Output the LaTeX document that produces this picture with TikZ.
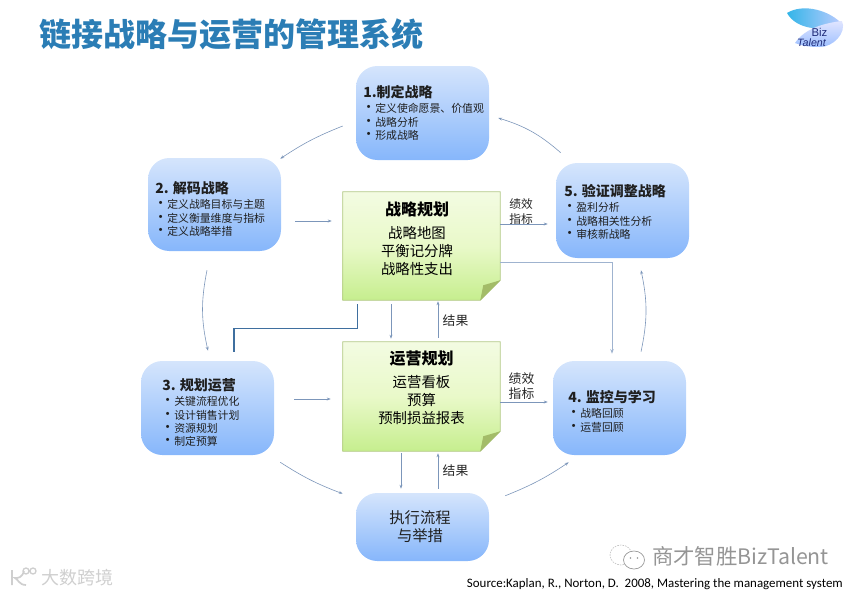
\documentclass[tikz,border=0pt]{standalone}
\usepackage{fontspec}
\setmainfont{Noto Sans CJK SC}
\newfontfamily\sourcefont{Carlito}
\newfontfamily\logofont{Liberation Sans}
\usetikzlibrary{calc,arrows.meta}

\definecolor{titleblue}{HTML}{2B7DB5}
\definecolor{flowblue}{HTML}{7C96BA}
\definecolor{deepblue}{HTML}{3F6F9F}
\definecolor{paleline}{HTML}{9FB3CF}
\definecolor{boxtop}{HTML}{D5E5FC}
\definecolor{boxbottom}{HTML}{86B6FB}
\definecolor{sheetline}{HTML}{B4C98A}
\definecolor{sheettop}{HTML}{F3FBE2}
\definecolor{sheetmid}{HTML}{E9F9C9}
\definecolor{sheetbottom}{HTML}{C6EE8E}
\definecolor{foldgreen}{HTML}{A3BC68}
\definecolor{markgrey}{HTML}{959595}
\definecolor{cornergrey}{HTML}{CFCFCF}
\definecolor{logonavy}{HTML}{1E2A78}

\tikzset{
  bluebox/.style n args={2}{rectangle,rounded corners=16pt,top color=boxtop,bottom color=boxbottom,
    minimum width=#1,minimum height=#2,inner sep=0pt},
  notebox/.style={rectangle,minimum width=117.75pt,inner sep=0pt},
  textnode/.style={anchor=north west,inner sep=0.75pt,align=left,text=black!88},
  flow/.style={draw=flowblue,line width=0.45pt,-{Stealth[length=3pt,width=2.2pt]}},
  linklabel/.style={inner sep=0.75pt,align=center,text=black!85},
}

\newcommand{\steptitle}[1]{{\fontsize{10.5}{10}\selectfont\bfseries #1}\\[1.2pt]}
\newcommand{\stepitem}[1]{\makebox[9pt][l]{\hspace{-1.5pt}\fontsize{11}{10}\selectfont\textbullet}#1}
\newcommand{\notesheet}[1]{%
  \path [draw=sheetline,line width=0.6pt,top color=sheettop,bottom color=sheetbottom,middle color=sheetmid]
    (#1.north west) -- (#1.north east) -- ($(#1.south east)+(0,-20)$) -- ($(#1.south east)+(-20,0)$) -- (#1.south west) -- cycle ;
  \fill [foldgreen] ($(#1.south east)+(0,-20)$) -- ($(#1.south east)+(-17,-15)$) -- ($(#1.south east)+(-20,0)$) -- cycle ;
}

\begin{document}
\begin{tikzpicture}[x=0.75pt,y=0.75pt,yscale=-1,xscale=1]
\useasboundingbox (0,0) rectangle (856,594);

% Heading
\node (heading) [anchor=west,inner sep=0pt,text=titleblue] at (39,34) {\fontsize{24}{26}\selectfont\bfseries 链接战略与运营的管理系统};

% Logo
\shade [left color=black!15!cyan!75!blue!80!white,right color=cyan!20!blue!25!white] (787,13) .. controls (803,3) and (830,10) .. (843,25) .. controls (825,31) and (797,31) .. (787,13) -- cycle ;
\shade [top color=cyan!15!blue!12!white,bottom color=cyan!35!blue!38!white] (795,43) .. controls (805,28) and (825,23) .. (842,21) .. controls (847,33) and (833,47) .. (820,47) .. controls (810,47) and (802,46) .. (795,43) -- cycle ;
\node (bizmark) [inner sep=0pt,text=logonavy,font=\logofont\fontsize{8.5}{8.5}\selectfont] at (819.5,32) {Biz};
\node (talentmark) [inner sep=0pt,text=logonavy,font=\logofont\itshape\fontsize{8}{8}\selectfont] at (811.5,43) {Talent};

% Blue boxes
\node (define) [bluebox={99.75pt}{70.5pt}] at (422.5,113) {};
\node (decode) [bluebox={99.75pt}{69.75pt}] at (214.5,204.5) {};
\node (verify) [bluebox={99.75pt}{71.25pt}] at (622.5,210.5) {};
\node (planops) [bluebox={99.75pt}{70.5pt}] at (207.5,408) {};
\node (monitor) [bluebox={99.75pt}{70.5pt}] at (619.5,408) {};
\node (execute) [bluebox={99.75pt}{51pt}] at (422.5,527) {};

% Green sheets
\node (strategy) [notebox,minimum height=81pt] at (421.5,246) {};
\node (operation) [notebox,minimum height=81.75pt] at (421.5,396.5) {};
\notesheet{strategy}
\notesheet{operation}

% Text Node
\node (definetext) [textnode,font=\fontsize{8.15}{10}\selectfont] at (362,84.5) {\steptitle{1.制定战略}\stepitem{定义使命愿景、价值观}\\\stepitem{战略分析}\\\stepitem{形成战略}};
% Text Node
\node (decodetext) [textnode,font=\fontsize{8.15}{10}\selectfont] at (154,180.5) {\steptitle{2. 解码战略}\stepitem{定义战略目标与主题}\\\stepitem{定义衡量维度与指标}\\\stepitem{定义战略举措}};
% Text Node
\node (verifytext) [textnode,font=\fontsize{8.15}{10}\selectfont] at (563,183.5) {\steptitle{5. 验证调整战略}\stepitem{盈利分析}\\\stepitem{战略相关性分析}\\\stepitem{审核新战略}};
% Text Node
\node (planopstext) [textnode,font=\fontsize{8.15}{10}\selectfont] at (161,377.5) {\steptitle{3. 规划运营}\stepitem{关键流程优化}\\\stepitem{设计销售计划}\\\stepitem{资源规划}\\\stepitem{制定预算}};
% Text Node
\node (monitortext) [textnode,font=\fontsize{8.15}{10}\selectfont] at (567,389.5) {\steptitle{4. 监控与学习}\stepitem{战略回顾}\\\stepitem{运营回顾}};
% Text Node
\node (executetext) [inner sep=0.75pt,align=center,text=black!88,font=\fontsize{11.5}{13.5}\selectfont] at (420,527) {执行流程\\与举措};

% Text Node
\node (strategyhead) [inner sep=0.75pt,font=\fontsize{12}{14}\selectfont\bfseries] at (417,209.5) {战略规划};
\node (strategybody) [inner sep=0.75pt,align=center,font=\fontsize{10.8}{13.3}\selectfont] at (417,251) {战略地图\\平衡记分牌\\战略性支出};
% Text Node
\node (operationhead) [inner sep=0.75pt,font=\fontsize{12}{14}\selectfont\bfseries] at (421.5,358.5) {运营规划};
\node (operationbody) [inner sep=0.75pt,align=center,font=\fontsize{10.8}{13.3}\selectfont] at (421.5,400) {运营看板\\预算\\预制损益报表};

% Cycle
\draw [flow] ($(verify.north west)+(5,-10)$) to [bend left=12] ($(define.east)+(9,5)$) ;
\draw [flow] ($(define.west)+(-13,13)$) to [bend left=6] ($(decode.north east)+(-1,1)$) ;
\draw [flow] ($(decode.south)+(-7.5,19)$) to [bend left=12] ($(planops.north)+(0.5,-10)$) ;
\draw [flow] ($(planops.south east)+(6,7)$) to [bend left=6] ($(execute.north west)+(-13,1)$) ;
\draw [flow] ($(execute.north east)+(16,3)$) to [bend left=6] ($(monitor.south west)+(16,7)$) ;
\draw [flow] ($(monitor.north)+(21.5,-9)$) to [bend left=12] ($(verify.south)+(18.5,12)$) ;

% Links to sheets
\draw [flow] ($(decode.east)+(14,16.5)$) -- ($(strategy.west)+(-11,-25)$) ;
\draw [flow] ($(planops.east)+(20,-9)$) -- ($(operation.west)+(-12,2.5)$) ;
\draw [flow] ($(strategy.east)+(0,-22)$) -- ($(verify.west)+(-8,13.5)$) ;
\draw [flow] ($(operation.east)+(0,5.5)$) -- ($(monitor.west)+(-5,-6)$) ;
\draw [flow] ($(strategy.south)+(-30.5,4)$) -- ($(operation.north)+(-30.5,-3)$) ;
\draw [flow] ($(operation.north)+(16.5,-4)$) -- ($(strategy.south)+(16.5,1)$) ;
\draw [flow] ($(operation.south)+(-20.5,2)$) -- ($(execute.north)+(-21.5,-4)$) ;
\draw [flow] ($(execute.north)+(15.5,-4)$) -- ($(operation.south)+(16.5,2)$) ;
\draw [draw=deepblue,line width=0.8pt] ($(strategy.south west)+(15,4)$) -- ++(0,24) -| ($(planops.north)+(26.5,-9)$) ;
\draw [draw=paleline,line width=0.7pt,-{Stealth[length=3.5pt,width=2.6pt]}] ($(strategy.east)+(0,16)$) -| ($(monitor.north)+(-7.5,-7)$) ;

% Link labels
\node (strategykpi) [linklabel,font=\fontsize{8.8}{11}\selectfont] at (521,211.5) {绩效\\指标};
\node (operationkpi) [linklabel,font=\fontsize{9.6}{11}\selectfont] at (521.5,386) {绩效\\指标};
\node (strategyresult) [linklabel,font=\fontsize{9.6}{11}\selectfont] at (455.5,320.5) {结果};
\node (operationresult) [linklabel,font=\fontsize{9.6}{11}\selectfont] at (455.5,470.5) {结果};

% Marks at the foot
\draw [markgrey!55,line width=0.5pt,dash pattern=on 1.2pt off 0.8pt] (621,555) ellipse [x radius=11,y radius=10] ;
\draw [markgrey,fill=white,line width=0.5pt] (634,560) ellipse [x radius=10.5,y radius=9] ;
\fill [markgrey] (630.5,558) circle [radius=0.9] (637.5,558) circle [radius=0.9] ;
\node (markname) [anchor=west,inner sep=0pt,text=markgrey,font=\fontsize{16}{18}\selectfont] at (652,556) {商才智胜BizTalent};
\node (cornername) [anchor=west,inner sep=0pt,text=cornergrey,font=\fontsize{13.5}{15}\selectfont] at (41,578) {大数跨境};
\draw [cornergrey,line width=1.3pt] (12,570) -- (12,585) (24,571) .. controls (22,578) and (18,578) .. (15,578) .. controls (18,579) and (19,585) .. (26,585) ;
\draw [cornergrey,line width=1pt] (26,571) circle [radius=3] (33,571) circle [radius=3] ;
\node (sourcenote) [anchor=east,inner sep=0pt,text=black,font=\sourcefont\fontsize{9.7}{11}\selectfont] at (843,584) {Source:Kaplan, R., Norton, D.\ \ 2008, Mastering the management system};

\end{tikzpicture}
\end{document}
